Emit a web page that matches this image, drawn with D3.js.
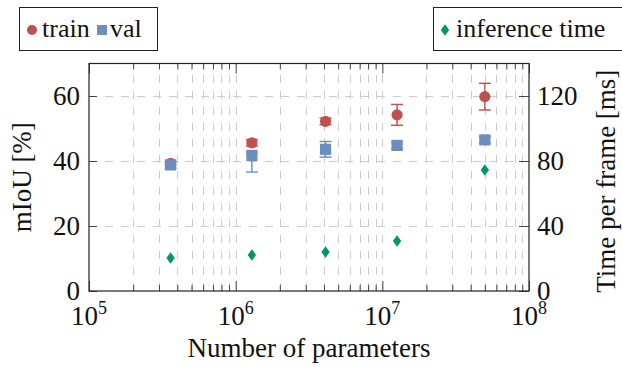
<!DOCTYPE html>
<html>
<head>
<meta charset="utf-8">
<script src="https://cdn.jsdelivr.net/npm/d3@7"></script>
<style>
  body { margin: 0; background: #fff; }
  svg text { font-family: "Liberation Serif", "DejaVu Serif", serif; fill: #111; }
</style>
</head>
<body>
<div id="chart"></div>
<script>
// data
const params = [3.6e5, 1.29e6, 4.1e6, 1.26e7, 5.0e7];
const trainIoU = [39.3, 45.6, 52.2, 54.2, 59.8];
const trainErr = [0.5, 1.0, 1.0, 3.2, 4.1];
const valIoU = [38.8, 41.7, 43.6, 44.8, 46.5];
const valErrUp = [1.0, 1.0, 2.4, 1.0, 1.0];
const valErrDown = [1.0, 5.1, 2.4, 1.0, 1.0];
const inferenceMs = [20.3, 22.2, 24.0, 30.8, 74.5];

const xMajor = [1e5, 1e6, 1e7, 1e8];
const xMinor = [1e5, 1e6, 1e7].flatMap(d => d3.range(2, 10).map(k => k * d));
const leftTicks = [0, 20, 40, 60];
const rightTicks = [0, 40, 80, 120];

const width = 622, height = 367;
const plotLeft = 89, plotRight = 529, plotTop = 63.5, plotBottom = 291;

const colors = { train: '#c0504d', val: '#6c8ebf', time: '#00956c' };

const svg = d3.select('#chart').append('svg')
  .attr('width', width)
  .attr('height', height);

const x = d3.scaleLog().domain([1e5, 1e8]).range([plotLeft, plotRight]);
const yL = d3.scaleLinear().domain([0, 70]).range([plotBottom, plotTop]);
const yR = d3.scaleLinear().domain([0, 140]).range([plotBottom, plotTop]);

// grid
const grid = svg.append('g').attr('stroke', '#cccccc').attr('stroke-width', 1).attr('stroke-dasharray', '8,8');
grid.selectAll('line.v')
  .data(xMajor.slice(1, -1).concat(xMinor))
  .enter().append('line')
  .attr('x1', d => Math.round(x(d)) + 0.5).attr('x2', d => Math.round(x(d)) + 0.5)
  .attr('y1', plotBottom).attr('y2', plotTop);
grid.selectAll('line.h')
  .data([20, 40, 60])
  .enter().append('line')
  .attr('x1', plotLeft).attr('x2', plotRight)
  .attr('y1', d => Math.round(yL(d)) + 0.5).attr('y2', d => Math.round(yL(d)) + 0.5);

// axes (ticks pointing inwards)
function clean(g) {
  g.select('.domain').remove();
  g.selectAll('line').attr('stroke', '#444');
  g.selectAll('text').style('font-size', '27px').attr('fill', '#111');
}
svg.append('g').attr('transform', `translate(0,${plotBottom})`)
  .call(d3.axisBottom(x).tickValues(xMinor).tickSize(-6).tickFormat('')).call(clean);
svg.append('g').attr('transform', `translate(0,${plotBottom})`)
  .call(d3.axisBottom(x).tickValues(xMajor).tickSize(-10).tickFormat('')).call(clean);
svg.append('g').attr('transform', `translate(0,${plotTop})`)
  .call(d3.axisTop(x).tickValues(xMinor).tickSize(-6).tickFormat('')).call(clean);
svg.append('g').attr('transform', `translate(0,${plotTop})`)
  .call(d3.axisTop(x).tickValues(xMajor).tickSize(-10).tickFormat('')).call(clean);
svg.append('g').attr('transform', `translate(${plotLeft},0)`)
  .call(d3.axisLeft(yL).tickValues(leftTicks).tickSize(-8).tickPadding(9)).call(clean);
svg.append('g').attr('transform', `translate(${plotRight},0)`)
  .call(d3.axisRight(yR).tickValues(rightTicks).tickSize(-10).tickPadding(8)).call(clean);

svg.append('rect')
  .attr('x', plotLeft).attr('y', plotTop)
  .attr('width', plotRight - plotLeft).attr('height', plotBottom - plotTop)
  .attr('fill', 'none').attr('stroke', '#222').attr('stroke-width', 1.2);

// x tick labels 10^k
const xl = svg.append('g').selectAll('text')
  .data(xMajor)
  .enter().append('text')
  .attr('x', d => x(d))
  .attr('y', 325)
  .attr('text-anchor', 'middle')
  .style('font-size', '27px');
xl.append('tspan').text('10');
xl.append('tspan').attr('dy', -11).style('font-size', '18px').text(d => Math.round(Math.log10(d)));

// axis titles
svg.append('text')
  .attr('x', (plotLeft + plotRight) / 2).attr('y', 357)
  .attr('text-anchor', 'middle').style('font-size', '27px')
  .text('Number of parameters');
svg.append('text')
  .attr('transform', `translate(31,${(plotTop + plotBottom) / 2}) rotate(-90)`)
  .attr('text-anchor', 'middle').style('font-size', '27px')
  .text('mIoU [%]');
svg.append('text')
  .attr('transform', `translate(615,${(plotTop + plotBottom) / 2 + 4}) rotate(-90)`)
  .attr('text-anchor', 'middle').style('font-size', '27px')
  .text('Time per frame [ms]');

// error bars
function errorBars(vals, up, down, color) {
  const g = svg.append('g').attr('stroke', color).attr('stroke-width', 1.4);
  params.forEach((p, i) => {
    const cx = x(p), y1 = yL(vals[i] + up[i]), y2 = yL(vals[i] - down[i]);
    g.append('line').attr('x1', cx).attr('x2', cx).attr('y1', y1).attr('y2', y2);
    g.append('line').attr('x1', cx - 6).attr('x2', cx + 6).attr('y1', y1).attr('y2', y1);
    g.append('line').attr('x1', cx - 6).attr('x2', cx + 6).attr('y1', y2).attr('y2', y2);
  });
}

const diamond = 'M0,-5.8L4.2,0L0,5.8L-4.2,0Z';

// train
errorBars(trainIoU, trainErr, trainErr, colors.train);
svg.append('g').selectAll('circle')
  .data(trainIoU)
  .enter().append('circle')
  .attr('cx', (d, i) => x(params[i])).attr('cy', d => yL(d))
  .attr('r', 5.6).attr('fill', colors.train);

// val
errorBars(valIoU, valErrUp, valErrDown, colors.val);
svg.append('g').selectAll('rect')
  .data(valIoU)
  .enter().append('rect')
  .attr('x', (d, i) => x(params[i]) - 5.6).attr('y', d => yL(d) - 5.6)
  .attr('width', 11.2).attr('height', 11.2).attr('fill', colors.val);

// inference time (right axis)
svg.append('g').selectAll('path')
  .data(inferenceMs)
  .enter().append('path')
  .attr('transform', (d, i) => `translate(${x(params[i])},${yR(d)})`)
  .attr('d', diamond).attr('fill', colors.time);

// legends
const leg1 = svg.append('g');
leg1.append('rect').attr('x', 19.5).attr('y', 7.5).attr('width', 138).attr('height', 43)
  .attr('fill', '#fff').attr('stroke', '#222');
leg1.append('circle').attr('cx', 32).attr('cy', 30).attr('r', 5).attr('fill', colors.train);
leg1.append('text').attr('x', 42).attr('y', 37).style('font-size', '26px').text('train');
leg1.append('rect').attr('x', 97).attr('y', 25).attr('width', 10).attr('height', 10).attr('fill', colors.val);
leg1.append('text').attr('x', 110).attr('y', 37).style('font-size', '26px').text('val');

const leg2 = svg.append('g');
leg2.append('rect').attr('x', 433.5).attr('y', 7.5).attr('width', 200).attr('height', 43)
  .attr('fill', '#fff').attr('stroke', '#222');
leg2.append('path').attr('transform', 'translate(445,30)').attr('d', diamond).attr('fill', colors.time);
leg2.append('text').attr('x', 456).attr('y', 37).style('font-size', '26px').text('inference time');
</script>
</body>
</html>
